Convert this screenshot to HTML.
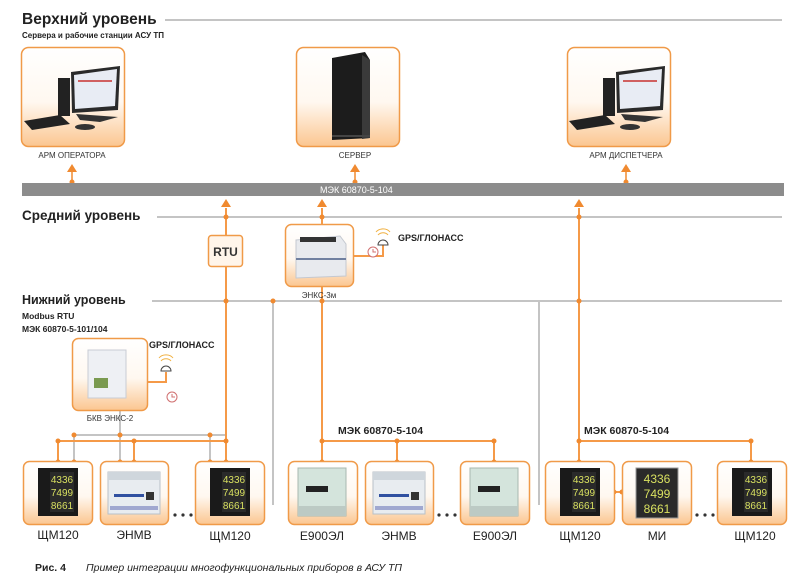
<!DOCTYPE html>
<html><head><meta charset="utf-8"><style>
html,body{margin:0;padding:0;background:#fff;}
svg{display:block;font-family:"Liberation Sans",sans-serif;}
</style></head><body>
<svg width="800" height="583" viewBox="0 0 800 583" xmlns="http://www.w3.org/2000/svg">
<defs>
<linearGradient id="bg" x1="0" y1="0" x2="0" y2="1">
<stop offset="0" stop-color="#ffffff"/><stop offset="0.55" stop-color="#fff8f0"/><stop offset="1" stop-color="#fbc690"/>
</linearGradient>
<g id="shm">
<rect x="-20" y="-24" width="40" height="48" fill="#1a1a1a"/>
<rect x="-8" y="-20" width="24" height="40" fill="#2a2a2a"/>
<text x="4" y="-9" font-size="10" fill="#d8e060" text-anchor="middle">4336</text>
<text x="4" y="4" font-size="10" fill="#d8e060" text-anchor="middle">7499</text>
<text x="4" y="17" font-size="10" fill="#d8e060" text-anchor="middle">8661</text>
</g>
<g id="enmv">
<rect x="-26" y="-20" width="52" height="42" fill="#e8ecf0" stroke="#b8c0c8"/>
<rect x="-26" y="-20" width="52" height="8" fill="#cfd6dc"/>
<rect x="-20" y="2" width="30" height="3" fill="#3050a0"/>
<rect x="12" y="0" width="8" height="8" fill="#333"/>
<rect x="-24" y="14" width="48" height="4" fill="#a0a8d0"/>
</g>
<g id="e900">
<rect x="-24" y="-24" width="48" height="48" fill="#d4e4dc" stroke="#a8b8b0"/>
<rect x="-16" y="-6" width="22" height="6" fill="#222"/>
<rect x="-24" y="14" width="48" height="10" fill="#bccac4"/>
</g>
</defs>

<text x="22" y="24" font-size="15.5" font-weight="bold" fill="#222">Верхний уровень</text>
<line x1="165" y1="20" x2="782" y2="20" stroke="#c4c4c4" stroke-width="2"/>
<text x="22" y="38" font-size="8" font-weight="bold" fill="#222">Сервера и рабочие станции АСУ ТП</text>

<rect x="21.5" y="47.5" width="103" height="99" rx="7" fill="url(#bg)" stroke="#f09a48" stroke-width="1.5"/>
<rect x="296.5" y="47.5" width="103" height="99" rx="7" fill="url(#bg)" stroke="#f09a48" stroke-width="1.5"/>
<rect x="567.5" y="47.5" width="103" height="99" rx="7" fill="url(#bg)" stroke="#f09a48" stroke-width="1.5"/>
<g>
<rect x="58" y="78" width="12" height="38" fill="#222"/>
<polygon points="71,72 120,66 118,110 72,113" fill="#2a2a2a"/>
<polygon points="74,75 117,69 115,106 75,109" fill="#e8ecf4"/>
<rect x="78" y="80" width="34" height="2" fill="#d06060"/>
<polygon points="24,121 60,115 70,124 32,130" fill="#222"/>
<polygon points="76,114 118,117 100,122 80,120" fill="#333"/>
<ellipse cx="85" cy="127" rx="10" ry="3" fill="#333"/>
</g>
<g transform="translate(545,0)">
<rect x="58" y="78" width="12" height="38" fill="#222"/>
<polygon points="71,72 120,66 118,110 72,113" fill="#2a2a2a"/>
<polygon points="74,75 117,69 115,106 75,109" fill="#e8ecf4"/>
<rect x="78" y="80" width="34" height="2" fill="#d06060"/>
<polygon points="24,121 60,115 70,124 32,130" fill="#222"/>
<polygon points="76,114 118,117 100,122 80,120" fill="#333"/>
<ellipse cx="85" cy="127" rx="10" ry="3" fill="#333"/>
</g>
<polygon points="332,58 365,52 370,60 370,138 332,140" fill="#1c1c1c"/>
<polygon points="362,55 370,60 370,138 362,139" fill="#3a3a3a"/>
<line x1="332" y1="136" x2="370" y2="136" stroke="#444" stroke-width="2"/>

<text x="72" y="158" font-size="8" fill="#333" text-anchor="middle">АРМ ОПЕРАТОРА</text>
<text x="355" y="158" font-size="8" fill="#333" text-anchor="middle">СЕРВЕР</text>
<text x="626" y="158" font-size="8" fill="#333" text-anchor="middle">АРМ ДИСПЕТЧЕРА</text>

<g stroke="#f08a30" stroke-width="1.5" fill="#f08a30">
<line x1="72" y1="172" x2="72" y2="182"/><polygon points="72,164 67,172 77,172" stroke="none"/><circle cx="72" cy="182" r="2.5" stroke="none"/>
<line x1="355" y1="172" x2="355" y2="182"/><polygon points="355,164 350,172 360,172" stroke="none"/><circle cx="355" cy="182" r="2.5" stroke="none"/>
<line x1="626" y1="172" x2="626" y2="182"/><polygon points="626,164 621,172 631,172" stroke="none"/><circle cx="626" cy="182" r="2.5" stroke="none"/>
</g>

<rect x="22" y="183" width="762" height="13" fill="#8c8c8c"/>
<text x="320" y="193" font-size="9" fill="#fff">МЭК 60870-5-104</text>

<text x="22" y="220" font-size="13.5" font-weight="bold" fill="#222">Средний уровень</text>
<line x1="157" y1="217" x2="782" y2="217" stroke="#c4c4c4" stroke-width="2"/>

<text x="22" y="304" font-size="12.5" font-weight="bold" fill="#222">Нижний уровень</text>
<line x1="152" y1="301" x2="782" y2="301" stroke="#c4c4c4" stroke-width="2"/>
<text x="22" y="319" font-size="8.5" font-weight="bold" fill="#222">Modbus RTU</text>
<text x="22" y="332" font-size="8.5" font-weight="bold" fill="#222">МЭК 60870-5-101/104</text>

<g stroke="#c4c4c4" stroke-width="2">
<line x1="273" y1="301" x2="273" y2="505"/>
<line x1="539" y1="301" x2="539" y2="505"/>
<line x1="74" y1="435" x2="226" y2="435"/>
<line x1="120" y1="411" x2="120" y2="435"/>
<line x1="74" y1="435" x2="74" y2="462"/>
<line x1="120" y1="435" x2="120" y2="462"/>
<line x1="210" y1="435" x2="210" y2="462"/>
</g>

<g stroke="#f59a48" stroke-width="2" fill="none">
<line x1="226" y1="208" x2="226" y2="462"/>
<line x1="322" y1="208" x2="322" y2="224"/>
<line x1="322" y1="287" x2="322" y2="462"/>
<line x1="579" y1="208" x2="579" y2="462"/>
<line x1="58" y1="441" x2="226" y2="441"/>
<line x1="58" y1="441" x2="58" y2="462"/>
<line x1="134" y1="441" x2="134" y2="462"/>
<line x1="322" y1="441" x2="494" y2="441"/>
<line x1="397" y1="441" x2="397" y2="462"/>
<line x1="494" y1="441" x2="494" y2="462"/>
<line x1="579" y1="441" x2="751" y2="441"/>
<line x1="751" y1="441" x2="751" y2="462"/>
<line x1="614" y1="492" x2="622" y2="492"/>
<polyline points="353,256 373,256 373,248"/>
<polyline points="353,256 383,256 383,245"/>
<polyline points="147,382 166,382 166,372"/>
</g>
<g fill="#f08a30">
<polygon points="226,199 221,207 231,207"/>
<polygon points="322,199 317,207 327,207"/>
<polygon points="579,199 574,207 584,207"/>
<circle cx="226" cy="217" r="2.5"/><circle cx="322" cy="217" r="2.5"/><circle cx="579" cy="217" r="2.5"/>
<circle cx="226" cy="301" r="2.5"/><circle cx="273" cy="301" r="2.5"/><circle cx="322" cy="301" r="2.5"/><circle cx="579" cy="301" r="2.5"/>
<circle cx="58" cy="441" r="2.5"/><circle cx="74" cy="435" r="2.5"/><circle cx="120" cy="435" r="2.5"/><circle cx="134" cy="441" r="2.5"/><circle cx="210" cy="435" r="2.5"/><circle cx="226" cy="441" r="2.5"/>
<circle cx="58" cy="462" r="2.5"/><circle cx="74" cy="462" r="2.5"/><circle cx="120" cy="462" r="2.5"/><circle cx="134" cy="462" r="2.5"/><circle cx="210" cy="462" r="2.5"/><circle cx="226" cy="462" r="2.5"/>
<circle cx="322" cy="441" r="2.5"/><circle cx="397" cy="441" r="2.5"/><circle cx="494" cy="441" r="2.5"/>
<circle cx="322" cy="462" r="2.5"/><circle cx="397" cy="462" r="2.5"/><circle cx="494" cy="462" r="2.5"/>
<circle cx="579" cy="441" r="2.5"/><circle cx="751" cy="441" r="2.5"/>
<circle cx="579" cy="462" r="2.5"/><circle cx="751" cy="462" r="2.5"/>
<circle cx="614" cy="492" r="2.5"/><circle cx="622" cy="492" r="2.5"/>
</g>

<rect x="208.5" y="235.5" width="34" height="31" rx="3" fill="#fff5ea" stroke="#f09a48" stroke-width="1.5"/>
<text x="225.5" y="256" font-size="12" font-weight="bold" fill="#333" text-anchor="middle">RTU</text>

<rect x="285.5" y="224.5" width="68" height="62" rx="6" fill="url(#bg)" stroke="#f09a48" stroke-width="1.5"/>
<polygon points="296,240 340,236 346,244 346,276 296,278" fill="#e8eaee" stroke="#c4c8d0"/>
<rect x="300" y="237" width="36" height="5" fill="#333"/>
<rect x="296" y="258" width="50" height="2" fill="#7080a0"/>
<text x="319" y="298" font-size="8" fill="#333" text-anchor="middle">ЭНКС-3м</text>
<circle cx="373" cy="252" r="5" fill="#fff" stroke="#d07070" stroke-width="1"/>
<path d="M373,249 v3 h3" stroke="#d07070" fill="none" stroke-width="1"/>
<path d="M378,245 a5,5 0 0 1 10,0 z" fill="#fff" stroke="#444" stroke-width="1"/>
<path d="M378,235 a6,5 0 0 1 10,0 M376,232 a8,6 0 0 1 14,0" stroke="#f0b040" fill="none" stroke-width="1"/>
<text x="398" y="241" font-size="9" font-weight="bold" fill="#222">GPS/ГЛОНАСС</text>

<rect x="72.5" y="338.5" width="75" height="72" rx="6" fill="url(#bg)" stroke="#f09a48" stroke-width="1.5"/>
<rect x="88" y="350" width="38" height="48" fill="#eef0f4" stroke="#c8ccd4"/>
<rect x="94" y="378" width="14" height="10" fill="#7a9a50"/>
<text x="110" y="421" font-size="8" fill="#333" text-anchor="middle">БКВ ЭНКС-2</text>
<path d="M161,371 a5,5 0 0 1 10,0 z" fill="#fff" stroke="#444" stroke-width="1"/>
<path d="M161,361 a6,5 0 0 1 10,0 M159,358 a8,6 0 0 1 14,0" stroke="#f0b040" fill="none" stroke-width="1"/>
<circle cx="172" cy="397" r="5" fill="#fff" stroke="#d07070" stroke-width="1"/>
<path d="M172,394 v3 h3" stroke="#d07070" fill="none" stroke-width="1"/>
<text x="149" y="348" font-size="9" font-weight="bold" fill="#222">GPS/ГЛОНАСС</text>

<text x="338" y="434" font-size="10.5" font-weight="bold" fill="#222">МЭК 60870-5-104</text>
<text x="584" y="434" font-size="10.5" font-weight="bold" fill="#222">МЭК 60870-5-104</text>

<g stroke="#f09a48" stroke-width="1.5" fill="url(#bg)">
<rect x="23.5" y="461.5" width="69" height="63" rx="6"/>
<rect x="100.5" y="461.5" width="68" height="63" rx="6"/>
<rect x="195.5" y="461.5" width="69" height="63" rx="6"/>
<rect x="288.5" y="461.5" width="69" height="63" rx="6"/>
<rect x="365.5" y="461.5" width="68" height="63" rx="6"/>
<rect x="460.5" y="461.5" width="69" height="63" rx="6"/>
<rect x="545.5" y="461.5" width="69" height="63" rx="6"/>
<rect x="622.5" y="461.5" width="69" height="63" rx="6"/>
<rect x="717.5" y="461.5" width="69" height="63" rx="6"/>
</g>
<use href="#shm" x="58" y="492"/>
<use href="#enmv" x="134" y="492"/>
<use href="#shm" x="230" y="492"/>
<use href="#e900" x="322" y="492"/>
<use href="#enmv" x="399" y="492"/>
<use href="#e900" x="494" y="492"/>
<use href="#shm" x="580" y="492"/>
<g>
<rect x="636" y="468" width="42" height="50" fill="#2a2a2a" stroke="#999"/>
<text x="657" y="483" font-size="12" fill="#d8e060" text-anchor="middle">4336</text>
<text x="657" y="498" font-size="12" fill="#d8e060" text-anchor="middle">7499</text>
<text x="657" y="513" font-size="12" fill="#d8e060" text-anchor="middle">8661</text>
</g>
<use href="#shm" x="752" y="492"/>

<g fill="#333">
<circle cx="175" cy="515" r="1.6"/><circle cx="183" cy="515" r="1.6"/><circle cx="191" cy="515" r="1.6"/>
<circle cx="439" cy="515" r="1.6"/><circle cx="447" cy="515" r="1.6"/><circle cx="455" cy="515" r="1.6"/>
<circle cx="697" cy="515" r="1.6"/><circle cx="705" cy="515" r="1.6"/><circle cx="713" cy="515" r="1.6"/>
</g>

<g font-size="12" fill="#222" text-anchor="middle">
<text x="58" y="539">ЩМ120</text>
<text x="134" y="539">ЭНМВ</text>
<text x="230" y="540">ЩМ120</text>
<text x="322" y="540">Е900ЭЛ</text>
<text x="399" y="540">ЭНМВ</text>
<text x="495" y="540">Е900ЭЛ</text>
<text x="580" y="540">ЩМ120</text>
<text x="657" y="540">МИ</text>
<text x="755" y="540">ЩМ120</text>
</g>

<text x="35" y="571" font-size="10.5" font-weight="bold" fill="#222">Рис.  4</text>
<text x="86" y="571" font-size="10.5" font-style="italic" fill="#222">Пример интеграции многофункциональных приборов в АСУ ТП</text>
</svg>
</body></html>
